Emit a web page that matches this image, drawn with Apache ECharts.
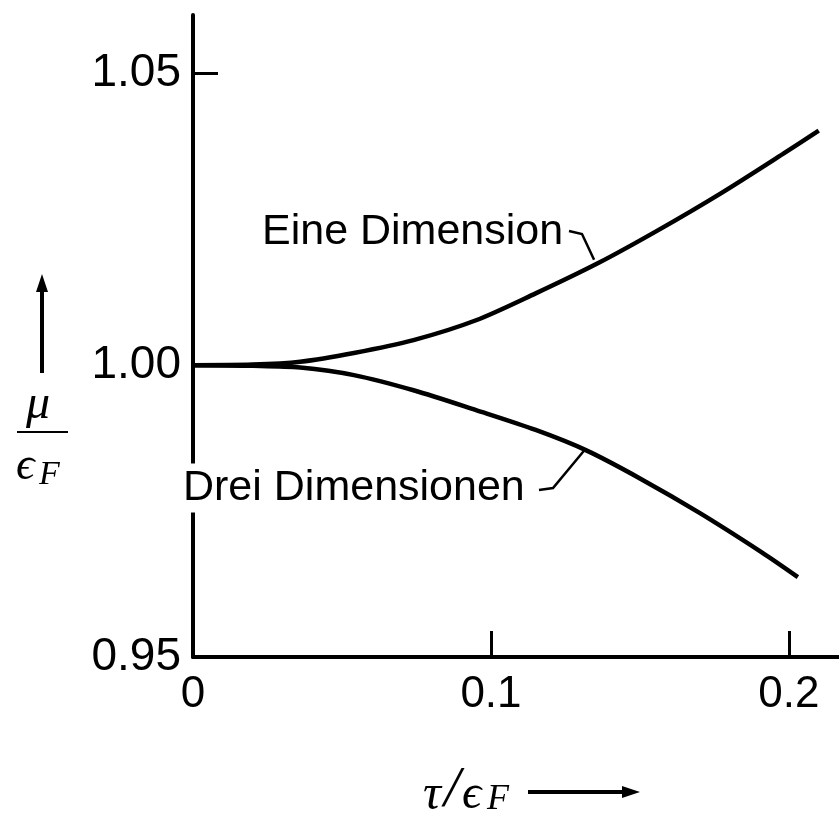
<!DOCTYPE html>
<html>
<head>
<meta charset="utf-8">
<script src="https://cdn.jsdelivr.net/npm/echarts@6/dist/echarts.min.js"></script>
<style>
  html, body { margin: 0; padding: 0; background: #fff; }
  #chart { width: 839px; height: 815px; }
</style>
</head>
<body>
<div id="chart"></div>
<script>
// ========================================
// 数据
// ========================================
const xTicks = [0, 0.1, 0.2];
const yTicks = [0.95, 1.00, 1.05];

// Eine Dimension
const xOne = [0, 0.02, 0.036, 0.054, 0.074, 0.095, 0.115, 0.136, 0.156, 0.177, 0.198, 0.21];
const yOne = [1.0, 1.0001, 1.0006, 1.0021, 1.0043, 1.0077, 1.0123, 1.0175, 1.0231, 1.0294, 1.0362, 1.0402];

// Drei Dimensionen
const xThree = [0, 0.02, 0.036, 0.054, 0.074, 0.095, 0.115, 0.132, 0.15, 0.17, 0.191, 0.203];
const yThree = [1.0, 0.9999, 0.9996, 0.9983, 0.9957, 0.9923, 0.9889, 0.9854, 0.9806, 0.9747, 0.9679, 0.9637];

const labelOne = 'Eine Dimension';
const labelThree = 'Drei Dimensionen';

// where the leader lines touch the curves
const hookOne = [0.1346, 1.0172];
const hookThree = [0.1315, 0.9855];

function pairs(xs, ys) {
  return xs.map((x, i) => [x, ys[i]]);
}

const chart = echarts.init(document.getElementById('chart'));

const sans = 'Liberation Sans, Arial, sans-serif';
const serif = 'Liberation Serif, DejaVu Serif, serif';

const option = {
  animation: false,
  backgroundColor: '#fff',
  grid: { left: 193, right: 0, top: 15, bottom: 158 },
  xAxis: {
    type: 'value',
    min: 0,
    max: 0.2168,
    axisLine: { lineStyle: { color: '#000', width: 4 } },
    axisTick: {
      inside: true, length: 26,
      lineStyle: { color: '#000', width: 3 },
      customValues: xTicks
    },
    axisLabel: {
      customValues: xTicks,
      color: '#000', fontFamily: sans, fontSize: 44, margin: 16,
      formatter: v => (v === 0 ? '0' : String(v))
    },
    splitLine: { show: false }
  },
  yAxis: {
    type: 'value',
    min: 0.95,
    max: 1.06,
    axisLine: { lineStyle: { color: '#000', width: 4 } },
    axisTick: {
      inside: true, length: 25,
      lineStyle: { color: '#000', width: 3 },
      customValues: yTicks
    },
    axisLabel: {
      customValues: yTicks,
      color: '#000', fontFamily: sans, fontSize: 46, margin: 12,
      formatter: v => v.toFixed(2)
    },
    splitLine: { show: false }
  },
  series: [
    {
      name: labelOne,
      type: 'line',
      data: pairs(xOne, yOne),
      smooth: 0.3,
      showSymbol: false,
      lineStyle: { color: '#000', width: 4.5 }
    },
    {
      name: labelThree,
      type: 'line',
      data: pairs(xThree, yThree),
      smooth: 0.3,
      showSymbol: false,
      lineStyle: { color: '#000', width: 4.5 }
    }
  ]
};

chart.setOption(option);

// ========================================
// 注释与坐标轴名称
// ========================================
const p1 = chart.convertToPixel({ gridIndex: 0 }, hookOne);
const p3 = chart.convertToPixel({ gridIndex: 0 }, hookThree);

function mathText(x, y, text, size) {
  return {
    type: 'text', z: 100, x: x, y: y,
    style: { text: text, fontFamily: serif, fontStyle: 'italic', fontSize: size, fill: '#000', verticalAlign: 'middle' }
  };
}

chart.setOption({
  graphic: [
    // curve labels
    {
      type: 'text', z: 100, x: 262, y: 232,
      style: { text: labelOne, fontFamily: sans, fontSize: 43, fill: '#000', verticalAlign: 'middle' }
    },
    {
      type: 'text', z: 100, x: 183, y: 488,
      style: {
        text: labelThree, fontFamily: sans, fontSize: 43, fill: '#000', verticalAlign: 'middle',
        backgroundColor: '#fff', padding: [3, 0, 3, 0]
      }
    },
    // leader lines
    {
      type: 'polyline', z: 100,
      shape: { points: [[569, 231], [582, 234], [p1[0], p1[1] - 5]] },
      style: { stroke: '#000', lineWidth: 2.5, fill: null }
    },
    {
      type: 'polyline', z: 100,
      shape: { points: [[539, 490], [553, 488], [p3[0], p3[1]]] },
      style: { stroke: '#000', lineWidth: 2.5, fill: null }
    },
    // y name: arrow + mu / eps_F
    {
      type: 'line', z: 100,
      shape: { x1: 42, y1: 373, x2: 42, y2: 285 },
      style: { stroke: '#000', lineWidth: 4 }
    },
    {
      type: 'polygon', z: 100,
      shape: { points: [[42, 274], [36, 292], [48, 292]] },
      style: { fill: '#000' }
    },
    mathText(26, 405, 'μ', 48),
    {
      type: 'line', z: 100,
      shape: { x1: 17, y1: 432, x2: 68, y2: 432 },
      style: { stroke: '#000', lineWidth: 2 }
    },
    mathText(16, 467, 'ϵ', 46),
    mathText(39, 475, 'F', 34),
    // x name: tau / eps_F + arrow
    mathText(423, 796, 'τ', 50),
    mathText(444, 791, '/', 58),
    mathText(462, 795, 'ϵ', 48),
    mathText(487, 800, 'F', 36),
    {
      type: 'line', z: 100,
      shape: { x1: 528, y1: 792, x2: 626, y2: 792 },
      style: { stroke: '#000', lineWidth: 4 }
    },
    {
      type: 'polygon', z: 100,
      shape: { points: [[640, 792], [622, 786], [622, 798]] },
      style: { fill: '#000' }
    }
  ]
});
</script>
</body>
</html>
